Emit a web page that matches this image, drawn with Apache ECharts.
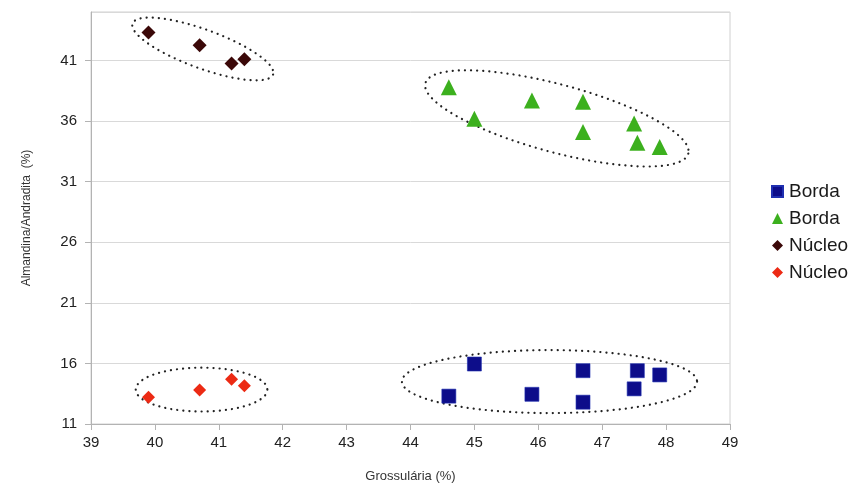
<!DOCTYPE html>
<html>
<head>
<meta charset="utf-8">
<script src="https://cdn.jsdelivr.net/npm/echarts@6/dist/echarts.min.js"></script>
<style>
  html, body { margin: 0; padding: 0; background: #fff; }
  #chart { width: 849px; height: 484px; }
</style>
</head>
<body>
<div id="chart"></div>
<script>
// Garnet compositions: grossular vs almandine/andradite (%)
const bordaAzul = [[44.6, 13.3], [45.0, 15.95], [45.9, 13.45], [46.7, 15.4], [46.7, 12.8], [47.5, 13.9], [47.55, 15.4], [47.9, 15.05]];
const bordaVerde = [[44.6, 38.8], [45.0, 36.2], [45.9, 37.7], [46.7, 37.6], [46.7, 35.1], [47.5, 35.8], [47.55, 34.2], [47.9, 33.85]];
const nucleoEscuro = [[39.9, 43.3], [40.7, 42.25], [41.2, 40.75], [41.4, 41.1]];
const nucleoVermelho = [[39.9, 13.2], [40.7, 13.8], [41.2, 14.7], [41.4, 14.15]];

// Dotted outlines around each group: centre (data), semi-axes (data units), tilt (degrees)
const grupos = [
  [40.75, 41.95, 1.17, 1.6, 20],
  [46.29, 36.22, 2.13, 2.8, 15],
  [46.175, 14.5, 2.31, 2.6, 0],
  [40.73, 13.84, 1.03, 1.81, 0]
];

const xMin = 39, xMax = 49, xStep = 1;
const yMin = 11, yMax = 45, yStep = 5;

const chart = echarts.init(document.getElementById('chart'), null, { renderer: 'canvas' });

function renderEllipse(params, api) {
  const c = api.coord([api.value(0), api.value(1)]);
  const unit = api.size([1, 1]);
  const a = api.value(2) * unit[0];
  const b = api.value(3) * unit[1];
  const th = api.value(4) * Math.PI / 180;
  const pts = [];
  const n = 120;
  for (let i = 0; i <= n; i++) {
    const t = i / n * Math.PI * 2;
    pts.push([
      c[0] + a * Math.cos(t) * Math.cos(th) - b * Math.sin(t) * Math.sin(th),
      c[1] + a * Math.cos(t) * Math.sin(th) + b * Math.sin(t) * Math.cos(th)
    ]);
  }
  return {
    type: 'polyline',
    shape: { points: pts },
    style: { fill: null, stroke: '#222', lineWidth: 2.2, lineDash: [0.1, 6], lineCap: 'round' },
    silent: true
  };
}

const fontFam = '"Liberation Sans", Arial, sans-serif';

chart.setOption({
  backgroundColor: '#fff',
  animation: false,
  grid: {
    left: 91, right: 119, top: 12, bottom: 60,
    outerBoundsMode: 'none', containLabel: false,
    show: true, borderColor: '#d0d0d0', borderWidth: 1
  },
  legend: {
    orient: 'vertical',
    left: 766,
    top: 177,
    itemWidth: 11,
    itemHeight: 11,
    itemGap: 8,
    textStyle: { fontFamily: fontFam, fontSize: 19, color: '#1a1a1a', padding: [0, 0, 0, 1] },
    data: [
      { name: 'Borda', icon: 'rect' },
      { name: 'Borda ', icon: 'triangle' },
      { name: 'Núcleo', icon: 'diamond' },
      { name: 'Núcleo ', icon: 'diamond' }
    ],
    formatter: n => n.trim()
  },
  xAxis: {
    type: 'value', min: xMin, max: xMax, interval: xStep,
    name: 'Grossulária (%)', nameLocation: 'middle', nameGap: 46,
    nameTextStyle: { fontFamily: fontFam, fontSize: 13, color: '#333' },
    axisLine: { show: true, lineStyle: { color: '#b3b3b3' } },
    axisTick: { show: true, length: 6, lineStyle: { color: '#b3b3b3' } },
    axisLabel: { fontFamily: fontFam, fontSize: 15, color: '#222', margin: 11 },
    splitLine: { show: false }
  },
  yAxis: {
    type: 'value', min: yMin, max: yMax, interval: yStep,
    name: 'Almandina/Andradita  (%)', nameLocation: 'middle', nameGap: 58,
    nameTextStyle: { fontFamily: fontFam, fontSize: 12, color: '#333' },
    axisLine: { show: true, lineStyle: { color: '#b3b3b3' } },
    axisTick: { show: true, length: 6, lineStyle: { color: '#b3b3b3' } },
    axisLabel: { fontFamily: fontFam, fontSize: 15, color: '#222', margin: 14, showMaxLabel: false },
    splitLine: { show: true, lineStyle: { color: '#d9d9d9' } }
  },
  series: [
    {
      type: 'custom', name: 'grupos', renderItem: renderEllipse, data: grupos,
      encode: { x: 0, y: 1 }, silent: true, z: 1
    },
    {
      name: 'Borda', type: 'scatter', data: bordaAzul, symbol: 'rect', symbolSize: 14,
      itemStyle: { color: '#0d0d8a', borderColor: '#1f2fb0', borderWidth: 0.6, opacity: 1 }, z: 3
    },
    {
      name: 'Borda ', type: 'scatter', data: bordaVerde, symbol: 'triangle', symbolSize: 16,
      itemStyle: { color: '#3cb01e', opacity: 1 }, z: 3
    },
    {
      name: 'Núcleo', type: 'scatter', data: nucleoEscuro, symbol: 'diamond', symbolSize: 14,
      itemStyle: { color: '#3b0808', opacity: 1 }, z: 3
    },
    {
      name: 'Núcleo ', type: 'scatter', data: nucleoVermelho, symbol: 'diamond', symbolSize: 13,
      itemStyle: { color: '#ec2a14', opacity: 1 }, z: 3
    }
  ]
});
</script>
</body>
</html>
